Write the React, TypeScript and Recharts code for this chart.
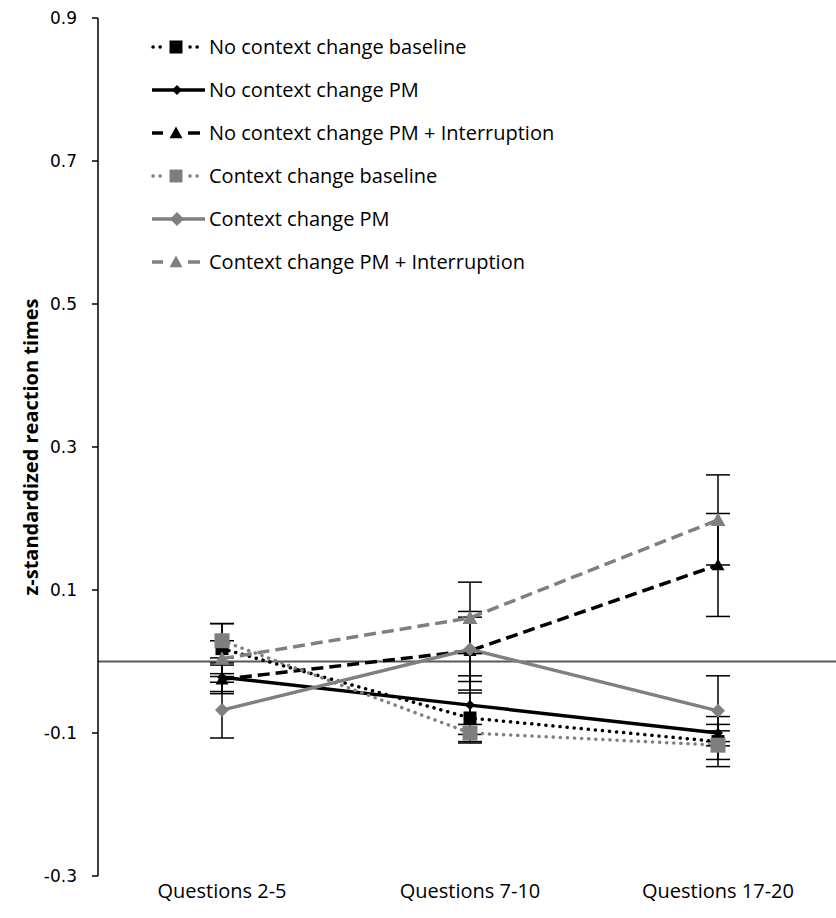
import React from 'react';
import { LineChart, Line, XAxis, YAxis, ErrorBar, ReferenceLine } from 'recharts';

const categories = ['Questions 2-5', 'Questions 7-10', 'Questions 17-20'];
const yTicks = [-0.3, -0.1, 0.1, 0.3, 0.5, 0.7, 0.9];

const ncBaseline = [0.018, -0.079, -0.112];
const ncBaselineErr = [0.035, 0.035, 0.035];
const ncPM = [-0.022, -0.061, -0.1];
const ncPMErr = [0.02, 0.041, 0.012];
const ncPMI = [-0.025, 0.015, 0.135];
const ncPMIErr = [0.02, 0.055, 0.072];
const cBaseline = [0.029, -0.1, -0.117];
const cBaselineErr = [0.024, 0.012, 0.02];
const cPM = [-0.068, 0.017, -0.069];
const cPMErr = [0.039, 0.045, 0.049];
const cPMI = [0.004, 0.061, 0.198];
const cPMIErr = [0.025, 0.05, 0.063];

const BLACK = '#000000';
const GRAY = '#7f7f7f';

const data = categories.map((c, i) => ({
  cat: c,
  ncBaseline: ncBaseline[i], ncBaselineErr: ncBaselineErr[i],
  ncPM: ncPM[i], ncPMErr: ncPMErr[i],
  ncPMI: ncPMI[i], ncPMIErr: ncPMIErr[i],
  cBaseline: cBaseline[i], cBaselineErr: cBaselineErr[i],
  cPM: cPM[i], cPMErr: cPMErr[i],
  cPMI: cPMI[i], cPMIErr: cPMIErr[i],
}));

type Shape = 'square' | 'diamond' | 'triangle';

function shapePath(shape: Shape, cx: number, cy: number, s: number) {
  if (shape === 'square') {
    return `M${cx - s},${cy - s}H${cx + s}V${cy + s}H${cx - s}Z`;
  }
  if (shape === 'diamond') {
    return `M${cx},${cy - s}L${cx + s},${cy}L${cx},${cy + s}L${cx - s},${cy}Z`;
  }
  return `M${cx},${cy - s}L${cx + s},${cy + s * 0.8}L${cx - s},${cy + s * 0.8}Z`;
}

const makeDot = (shape: Shape, color: string, s: number) => (props: any) => {
  const { cx, cy, index } = props;
  if (cx == null || cy == null) return <g key={`d${index}`} />;
  return <path key={`d${index}`} d={shapePath(shape, cx, cy, s)} fill={color} stroke="none" />;
};

const DOTTED = '0.1 7';
const DASHED = '12 6';

type Style = 'dotted' | 'solid' | 'dashed';

const series = [
  { key: 'ncBaseline', err: 'ncBaselineErr', name: 'No context change baseline', color: BLACK, style: 'dotted' as Style, shape: 'square' as Shape, size: 6.5, lsize: 6.5 },
  { key: 'ncPM', err: 'ncPMErr', name: 'No context change PM', color: BLACK, style: 'solid' as Style, shape: 'diamond' as Shape, size: 5, lsize: 5 },
  { key: 'ncPMI', err: 'ncPMIErr', name: 'No context change PM + Interruption', color: BLACK, style: 'dashed' as Style, shape: 'triangle' as Shape, size: 6.5, lsize: 6.5 },
  { key: 'cBaseline', err: 'cBaselineErr', name: 'Context change baseline', color: GRAY, style: 'dotted' as Style, shape: 'square' as Shape, size: 7.5, lsize: 6.5 },
  { key: 'cPM', err: 'cPMErr', name: 'Context change PM', color: GRAY, style: 'solid' as Style, shape: 'diamond' as Shape, size: 7, lsize: 7 },
  { key: 'cPMI', err: 'cPMIErr', name: 'Context change PM + Interruption', color: GRAY, style: 'dashed' as Style, shape: 'triangle' as Shape, size: 7.5, lsize: 6.5 },
];

const dashOf = (st: Style) => (st === 'dotted' ? DOTTED : st === 'dashed' ? DASHED : undefined);

const LegendSample = ({ st, color, shape, size }: { st: Style; color: string; shape: Shape; size: number }) => {
  const cy = 10;
  let lines: React.ReactNode = null;
  if (st === 'solid') {
    lines = <line x1={14} x2={67} y1={cy} y2={cy} stroke={color} strokeWidth={3.5} />;
  } else if (st === 'dashed') {
    lines = (
      <>
        <line x1={14} x2={25} y1={cy} y2={cy} stroke={color} strokeWidth={3.5} />
        <line x1={50} x2={62} y1={cy} y2={cy} stroke={color} strokeWidth={3.5} />
      </>
    );
  } else {
    lines = (
      <>
        <line x1={15} x2={23} y1={cy} y2={cy} stroke={color} strokeWidth={3.5} strokeDasharray="0.1 7" strokeLinecap="round" />
        <line x1={52} x2={60} y1={cy} y2={cy} stroke={color} strokeWidth={3.5} strokeDasharray="0.1 7" strokeLinecap="round" />
      </>
    );
  }
  return (
    <svg width={68} height={20} style={{ display: 'block' }}>
      {lines}
      <path d={shapePath(shape, st === 'solid' ? 39 : 38, cy, size)} fill={color} />
    </svg>
  );
};

const LegendBox = () => (
  <div style={{ position: 'absolute', left: 138, top: 25, fontFamily: "'Open Sans', sans-serif", fontSize: 20, color: '#000' }}>
    {series.map((s) => (
      <div key={s.key} style={{ display: 'flex', alignItems: 'center', height: 43 }}>
        <LegendSample st={s.style} color={s.color} shape={s.shape} size={s.lsize} />
        <span style={{ marginLeft: 3, whiteSpace: 'nowrap', lineHeight: '20px' }}>{s.name}</span>
      </div>
    ))}
  </div>
);

export default function App() {
  return (
    <div style={{ position: 'absolute', left: 0, top: 0, width: 836, height: 918, background: '#fff' }}>
      <LineChart width={836} height={918} data={data} margin={{ top: 18, right: 0, bottom: 0, left: 0 }}>
        <XAxis
          dataKey="cat"
          height={42}
          axisLine={false}
          tickLine={false}
          tickSize={6}
          tickMargin={2}
          padding={{ left: 124, right: 118 }}
          tick={{ fill: '#000', fontSize: 20, fontFamily: "'Open Sans', sans-serif" }}
          interval={0}
        />
        <YAxis
          width={98}
          domain={[-0.3, 0.9]}
          ticks={yTicks}
          type="number"
          allowDataOverflow
          axisLine={{ stroke: '#000', strokeWidth: 1.5 }}
          tickLine={{ stroke: '#000', strokeWidth: 1.5 }}
          tickSize={6}
          tickMargin={15}
          tickFormatter={(v: number) => v.toFixed(1)}
          tick={{ fill: '#000', fontSize: 17, fontFamily: "'DejaVu Sans', sans-serif" }}
          label={{
            value: 'z-standardized reaction times',
            angle: -90,
            position: 'insideLeft',
            offset: 0,
            dx: 31,
            style: { textAnchor: 'middle', fontFamily: "'Open Sans', sans-serif", fontWeight: 'bold', fontSize: 20, fill: '#000' },
          }}
        />
        <ReferenceLine y={0} stroke="#595959" strokeWidth={2} ifOverflow="extendDomain" />
        {series.map((s) => (
          <Line
            key={s.key}
            dataKey={s.key}
            name={s.name}
            stroke={s.color}
            strokeWidth={3.5}
            strokeDasharray={dashOf(s.style)}
            strokeLinecap={s.style === 'dotted' ? 'round' : 'butt'}
            dot={makeDot(s.shape, s.color, s.size)}
            activeDot={false}
            isAnimationActive={false}
          >
            <ErrorBar dataKey={s.err} width={12} strokeWidth={1.5} stroke="#000" direction="y" />
          </Line>
        ))}
      </LineChart>
      <LegendBox />
    </div>
  );
}
